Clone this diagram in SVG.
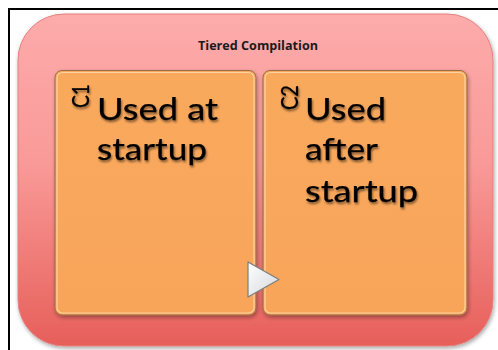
<svg xmlns="http://www.w3.org/2000/svg" width="498" height="350" viewBox="0 0 498 350">
  <defs>
    <linearGradient id="outerGrad" x1="0" y1="0" x2="0" y2="1">
      <stop offset="0" stop-color="#fdabab"/>
      <stop offset="0.45" stop-color="#f99a98"/>
      <stop offset="1" stop-color="#e75f5a"/>
    </linearGradient>
    <linearGradient id="boxGrad" x1="0" y1="0" x2="0" y2="1">
      <stop offset="0" stop-color="#f9a95c"/>
      <stop offset="1" stop-color="#f8a55a"/>
    </linearGradient>
    <linearGradient id="triGrad" x1="0" y1="0" x2="1" y2="1">
      <stop offset="0" stop-color="#ffffff"/>
      <stop offset="1" stop-color="#d4d6da"/>
    </linearGradient>
    <filter id="softShadow" x="-10%" y="-10%" width="120%" height="120%">
      <feGaussianBlur in="SourceAlpha" stdDeviation="2"/>
      <feOffset dx="1" dy="2" result="b"/>
      <feComponentTransfer><feFuncA type="linear" slope="0.35"/></feComponentTransfer>
      <feMerge><feMergeNode/><feMergeNode in="SourceGraphic"/></feMerge>
    </filter>
    <filter id="textShadow" x="-10%" y="-20%" width="120%" height="140%">
      <feGaussianBlur in="SourceAlpha" stdDeviation="1.3"/>
      <feOffset dx="1" dy="2"/>
      <feComponentTransfer><feFuncA type="linear" slope="0.5"/></feComponentTransfer>
      <feMerge><feMergeNode/><feMergeNode in="SourceGraphic"/></feMerge>
    </filter>
  </defs>
  <style>
    .frame { stroke: #000; stroke-width: 2; fill: none; }
    .outer { fill: url(#outerGrad); stroke: #e6817f; stroke-width: 1; }
    .box { fill: url(#boxGrad); stroke: #9a6a48; stroke-width: 1; }
    .hl { fill: none; stroke: #fcd3a0; stroke-width: 1.2; }
    .title { font-family: "Open Sans", "Liberation Sans", sans-serif; font-weight: bold; font-size: 12.5px; fill: #1a1a1a; }
    .big { font-family: Lato, "Open Sans", sans-serif; font-weight: normal; font-size: 31px; fill: #000; stroke: #000; stroke-width: 0.25; }
    .tag { font-family: Lato, "Open Sans", sans-serif; font-weight: normal; font-size: 23px; fill: #000; stroke: #000; stroke-width: 0.3; }
    .tri { fill: url(#triGrad); stroke: #7d7d7d; stroke-width: 1.2; stroke-linejoin: round; }
  </style>
  <rect x="0" y="0" width="498" height="350" fill="#ffffff"/>
  <path class="frame" d="M9,350 L9,9 L498,9"/>

  <g id="tiered-compilation">
    <rect class="outer" x="18" y="14" width="475" height="332" rx="46" ry="46" filter="url(#softShadow)"/>
    <text class="title" x="258" y="50" text-anchor="middle" textLength="120" lengthAdjust="spacingAndGlyphs">Tiered Compilation</text>
  </g>

  <g id="c1">
    <rect class="box" x="55" y="70.5" width="201" height="244.5" rx="7" ry="7" filter="url(#softShadow)"/>
    <rect class="hl" x="57" y="72.5" width="197" height="240.5" rx="5.5" ry="5.5"/>
    <g filter="url(#textShadow)">
      <text class="tag" transform="translate(89,108) rotate(-90)" textLength="24" lengthAdjust="spacingAndGlyphs">C1</text>
      <text class="big" x="97" y="120" textLength="121" lengthAdjust="spacingAndGlyphs">Used at</text>
      <text class="big" x="97" y="160" textLength="110" lengthAdjust="spacingAndGlyphs">startup</text>
    </g>
  </g>

  <g id="c2">
    <rect class="box" x="263" y="70.5" width="204" height="244.5" rx="7" ry="7" filter="url(#softShadow)"/>
    <rect class="hl" x="265" y="72.5" width="200" height="240.5" rx="5.5" ry="5.5"/>
    <g filter="url(#textShadow)">
      <text class="tag" transform="translate(298,110) rotate(-90)" textLength="25" lengthAdjust="spacingAndGlyphs">C2</text>
      <text class="big" x="305" y="120" textLength="81" lengthAdjust="spacingAndGlyphs">Used</text>
      <text class="big" x="305" y="160" textLength="73" lengthAdjust="spacingAndGlyphs">after</text>
      <text class="big" x="305" y="202" textLength="113" lengthAdjust="spacingAndGlyphs">startup</text>
    </g>
  </g>

  <g id="connectors">
    <path class="tri" d="M248,262 L248,297 L279,279.5 Z"/>
  </g>
</svg>
